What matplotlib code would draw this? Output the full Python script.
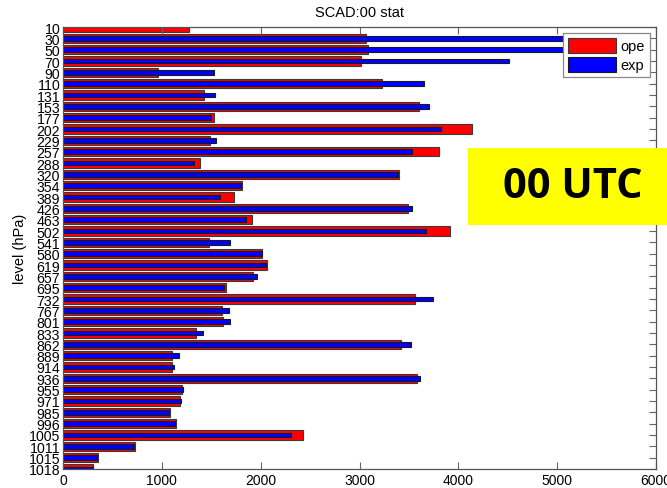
import numpy as np
import matplotlib.pyplot as plt
from matplotlib.patches import Rectangle

plt.rcParams['font.family'] = ['Liberation Sans', 'DejaVu Sans']

levels = [10, 30, 50, 70, 90, 110, 131, 153, 177, 202, 229, 257, 288, 320,
          354, 389, 426, 463, 502, 541, 580, 619, 657, 695, 732, 767, 801,
          833, 862, 889, 914, 936, 955, 971, 985, 996, 1005, 1011, 1015, 1018]
ope = [1272, 3066, 3086, 3015, 958, 3228, 1430, 3605, 1531, 4135, 1484, 3808,
       1390, 3397, 1815, 1727, 3491, 1909, 3916, 1481, 2017, 2061, 1919, 1646,
       3558, 1612, 1622, 1349, 3420, 1106, 1106, 3582, 1204, 1184, 1086, 1143,
       2425, 732, 357, 300]
exp = [0, 5900, 5800, 4516, 1525, 3653, 1541, 3700, 1497, 3828, 1545, 3528,
       1322, 3386, 1798, 1585, 3528, 1848, 3670, 1686, 2010, 2058, 1960, 1626,
       3740, 1680, 1686, 1417, 3518, 1171, 1120, 3616, 1211, 1191, 1069, 1137,
       2307, 722, 340, 300]

fig = plt.figure(figsize=(6.67, 4.89), dpi=100)
ax = fig.add_axes([63/667, 19/489, 593/667, 442/489])

y = np.arange(len(levels))
ax.barh(y, ope, height=0.8, color='#ff0000', edgecolor='#3a3a3a',
        linewidth=0.8, label='ope')
ax.barh(y, exp, height=0.4, color='#0000ff', edgecolor='#1a1a1a',
        linewidth=0.8, label='exp')

ax.set_xlim(0, 6000)
ax.set_ylim(len(levels) - 1, 0)
ax.set_xticks([0, 1000, 2000, 3000, 4000, 5000, 6000])
ax.set_yticks(y)
ax.set_yticklabels([str(l) for l in levels], fontsize=10.2)
ax.tick_params(axis='x', labelsize=10, direction='in', top=True,
               length=5, color='#666666', pad=3)
ax.tick_params(axis='y', direction='in', right=True, left=False,
               length=5, color='#666666', pad=2)
for s in ax.spines.values():
    s.set_color('#555555')
    s.set_linewidth(0.9)

ax.set_ylabel('level (hPa)', fontsize=10.5, labelpad=1)
ax.set_title('SCAD:00 stat', fontsize=10.5, pad=8)

leg = ax.legend(loc='upper right', fontsize=10.5, handlelength=3.3,
                handleheight=1.2, borderaxespad=0.4, fancybox=False,
                framealpha=1, edgecolor='#888888', borderpad=0.35,
                labelspacing=0.25, handletextpad=0.3)
leg.get_frame().set_linewidth(0.9)

# yellow label box
fig.patches.append(Rectangle((468/667, 263/489), 199/667, 77/489,
                             transform=fig.transFigure, facecolor='#ffff00',
                             edgecolor='none', zorder=5))
fig.text(573/667, 301/489, '00 UTC', fontsize=30, fontweight='bold',
         family=['Open Sans', 'DejaVu Sans'], ha='center', va='center',
         zorder=6)

fig.savefig('out.png', dpi=100)
